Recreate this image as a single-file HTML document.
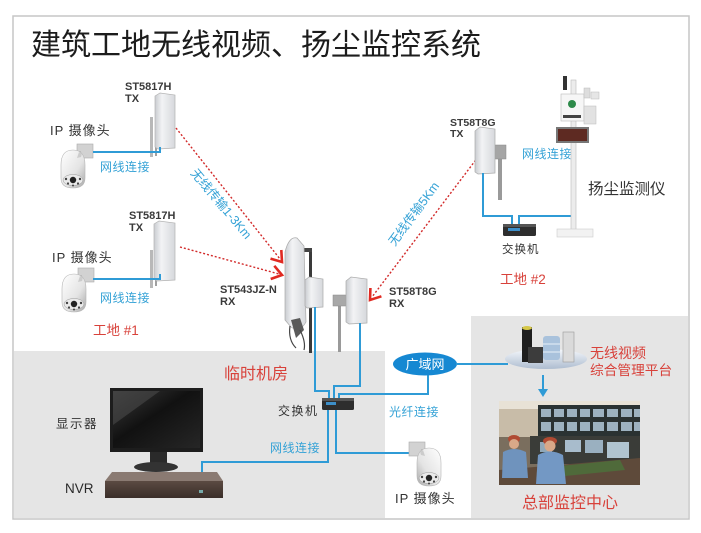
<!DOCTYPE html>
<html><head><meta charset="utf-8"><style>
html,body{margin:0;padding:0;background:#fff;}
svg{display:block;}
.cn{font-family:"Liberation Sans","Noto Sans CJK SC",sans-serif;}
.lat{font-family:"Liberation Sans",sans-serif;font-weight:bold;fill:#3a3a3a;font-size:11px;}
.blue{fill:#35a2d6;font-size:12px;letter-spacing:0.5px;}
.red{fill:#d8413a;}
.dark{fill:#333;}
.bl{fill:none;stroke:#2f9bd6;stroke-width:2;}
.rd{fill:none;stroke:#d22a2a;stroke-width:1.4;stroke-dasharray:2 2;}
.ah{fill:none;stroke:#e02a22;stroke-width:2.6;stroke-linejoin:miter;}
</style></head><body>
<svg width="701" height="533" viewBox="0 0 701 533" xmlns="http://www.w3.org/2000/svg">
<defs>
<linearGradient id="pan" x1="0" y1="0" x2="1" y2="0">
<stop offset="0" stop-color="#c9ccd0"/><stop offset="0.35" stop-color="#f2f3f5"/><stop offset="1" stop-color="#d6d8dc"/>
</linearGradient>
<linearGradient id="dome" x1="0" y1="0" x2="1" y2="1">
<stop offset="0" stop-color="#ffffff"/><stop offset="0.6" stop-color="#e4e4e4"/><stop offset="1" stop-color="#a8a8a8"/>
</linearGradient>
<linearGradient id="scr" x1="0" y1="0" x2="1" y2="1">
<stop offset="0" stop-color="#3a3a3a"/><stop offset="0.45" stop-color="#111"/><stop offset="1" stop-color="#262626"/>
</linearGradient>
<linearGradient id="plat" x1="0" y1="0" x2="0" y2="1">
<stop offset="0" stop-color="#f4f7fb"/><stop offset="1" stop-color="#aebdd0"/>
</linearGradient>
<linearGradient id="nvr" x1="0" y1="0" x2="0" y2="1">
<stop offset="0" stop-color="#5b4a42"/><stop offset="1" stop-color="#3a2e29"/>
</linearGradient>
<g id="cam">
<rect x="18" y="1" width="16" height="14" fill="#d2d2d2" stroke="#aaa" stroke-width="0.6"/>
<path d="M18,8 L22,8 L22,16 L18,17 Z" fill="#bdbdbd"/>
<path d="M2,22 Q2,7 14,7 Q26,7 26,22 L26,35 Q26,45 14,45 Q2,45 2,35 Z" fill="url(#dome)" stroke="#b5b5b5" stroke-width="0.6"/>
<path d="M20,9 Q24,10 22,14 L18,15 Z" fill="#ccc"/>
<ellipse cx="14" cy="37" rx="10" ry="5.5" fill="#eaeaea" stroke="#999" stroke-width="0.5"/>
<circle cx="14" cy="37" r="3.2" fill="#222"/>
<circle cx="7" cy="36" r="1.2" fill="#444"/><circle cx="21" cy="36" r="1.2" fill="#444"/>
<circle cx="9" cy="40.5" r="1.1" fill="#444"/><circle cx="19" cy="40.5" r="1.1" fill="#444"/>
<circle cx="14" cy="42.5" r="1" fill="#444"/>
</g>
</defs>

<!-- frame -->
<rect x="13" y="16" width="676" height="503" fill="#fff" stroke="#c6c6c6" stroke-width="1.5"/>
<!-- gray panels -->
<rect x="14" y="351" width="371" height="167" fill="#e5e5e5"/>
<rect x="471" y="316" width="217" height="202" fill="#e5e5e5"/>

<!-- title -->
<text x="31" y="55" class="cn" font-size="30" fill="#1c1c1c">建筑工地无线视频、扬尘监控系统</text>

<!-- ===== site 1 ===== -->
<text x="50" y="135" class="cn dark" font-size="13" letter-spacing="1">IP 摄像头</text>
<use href="#cam" transform="translate(59,143)"/>
<text x="125" y="90" class="lat">ST5817H</text>
<text x="125" y="102" class="lat">TX</text>
<rect x="150" y="117" width="3" height="40" fill="#b8b8b8"/>
<rect x="155" y="120" width="2" height="36" fill="#a0a0a0"/>
<polygon points="155,96 160,93 175,95 175,148 158,149 155,147" fill="url(#pan)" stroke="#b3b3b3" stroke-width="0.7"/>
<polyline class="bl" points="93,152 160,152 160,147"/>
<text x="100" y="171" class="cn blue">网线连接</text>

<text x="52" y="262" class="cn dark" font-size="13" letter-spacing="1">IP 摄像头</text>
<use href="#cam" transform="translate(60,267)"/>
<text x="129" y="219" class="lat">ST5817H</text>
<text x="129" y="231" class="lat">TX</text>
<rect x="150" y="250" width="3" height="38" fill="#b8b8b8"/>
<rect x="155" y="252" width="2" height="34" fill="#a0a0a0"/>
<polygon points="154,224 159,221 175,223 175,280 157,281 154,279" fill="url(#pan)" stroke="#b3b3b3" stroke-width="0.7"/>
<polyline class="bl" points="93,279 160,279 160,274"/>
<text x="100" y="302" class="cn blue">网线连接</text>
<text x="93" y="335" class="cn red" font-size="13.5">工地 #1</text>

<!-- red dashed wireless links -->
<line class="rd" x1="176" y1="128" x2="280" y2="259"/>
<polyline class="ah" points="281.3,250 282,262 270.5,258.6"/>
<line class="rd" x1="180" y1="247" x2="279" y2="274"/>
<polyline class="ah" points="274.3,265.8 282,275 270.7,279"/>
<line class="rd" x1="478" y1="157" x2="372" y2="297"/>
<polyline class="ah" points="381.4,296.3 370,300 370.4,288"/>
<text class="cn" font-size="12.5" fill="#35a2d6" text-anchor="middle" transform="translate(221,204) rotate(50)" dy="4">无线传输1-3Km</text>
<text class="cn" font-size="12.5" fill="#35a2d6" text-anchor="middle" transform="translate(414,214) rotate(-53.5)" dy="4">无线传输5Km</text>

<!-- ===== center antennas ===== -->
<text x="220" y="293" class="lat">ST543JZ-N</text>
<text x="220" y="305" class="lat">RX</text>
<rect x="309" y="250" width="3" height="103" fill="#3a3a3a"/>
<rect x="302" y="248" width="10" height="4" fill="#444"/>
<path d="M285,252 Q289,236 297,238 L304,246 L306,322 Q300,333 291,327 L285,320 Z" fill="url(#pan)" stroke="#aaa" stroke-width="0.7"/>
<path d="M291,320 L300,318 L304,330 L296,338 Z" fill="#5a5a5a"/>
<path d="M290,326 Q288,340 296,348" fill="none" stroke="#444" stroke-width="1.2"/>
<path d="M300,330 Q306,342 304,350" fill="none" stroke="#444" stroke-width="1.2"/>
<polygon points="305,280 309,277 323,279 323,307 307,308 305,306" fill="url(#pan)" stroke="#aaa" stroke-width="0.7"/>

<rect x="338" y="300" width="3" height="52" fill="#9a9a9a"/>
<rect x="333" y="295" width="13" height="11" fill="#a8a8a8" stroke="#888" stroke-width="0.5"/>
<polygon points="346,281 351,277 367,279 367,323 349,324 346,322" fill="url(#pan)" stroke="#aaa" stroke-width="0.7"/>
<text x="389" y="295" class="lat">ST58T8G</text>
<text x="389" y="307" class="lat">RX</text>

<!-- center blue lines -->
<polyline class="bl" points="315,307 315,391 329,391 329,399"/>
<polyline class="bl" points="360,323 360,386 334,386 334,399"/>
<polyline class="bl" points="428,375 428,394 339,394 339,399"/>
<polyline class="bl" points="328,410 328,462 202,462 202,492"/>
<polyline class="bl" points="336,410 336,453 414,453"/>
<!-- switch -->
<rect x="322" y="398" width="32" height="12" rx="1.5" fill="#2e2e2e"/>
<rect x="322" y="398" width="32" height="3" fill="#555"/>
<rect x="326" y="402" width="10" height="3" fill="#3d8fc9"/>
<text x="278" y="415" class="cn dark" font-size="12" letter-spacing="1.5">交换机</text>

<text x="224" y="379" class="cn red" font-size="16">临时机房</text>
<text x="270" y="452" class="cn blue">网线连接</text>
<text x="389" y="416" class="cn blue">光纤连接</text>

<!-- monitor -->
<text x="56" y="428" class="cn dark" font-size="12.5" letter-spacing="1.5">显示器</text>
<rect x="110" y="388" width="93" height="64" fill="#1d1d1d"/>
<rect x="113" y="391" width="87" height="57" fill="url(#scr)"/>
<polygon points="113,391 160,391 113,425" fill="#4a4a4a" opacity="0.6"/>
<rect x="150" y="452" width="17" height="13" fill="#2a2a2a"/>
<ellipse cx="156" cy="467" rx="22" ry="5" fill="#333"/>
<!-- NVR -->
<text x="65" y="493" style="font-family:'Liberation Sans',sans-serif;font-size:13.5px;fill:#2a2a2a;">NVR</text>
<polygon points="112,472 217,472 223,481 105,481" fill="#8a7a72"/>
<rect x="105" y="481" width="118" height="17" fill="url(#nvr)"/>
<line x1="105" y1="489" x2="223" y2="489" stroke="#4a3c36" stroke-width="0.8"/>
<rect x="199" y="490" width="4" height="3" fill="#7aa"/>

<!-- WAN ellipse -->
<ellipse cx="425" cy="364" rx="32" ry="11.5" fill="#1688d2"/>
<text x="425" y="369" class="cn" font-size="13" fill="#fff" text-anchor="middle">广域网</text>
<line class="bl" x1="456" y1="364" x2="508" y2="364"/>

<!-- camera 3 -->
<use href="#cam" transform="translate(443,441) scale(-1,1)"/>
<text x="395" y="503" class="cn dark" font-size="13" letter-spacing="1">IP 摄像头</text>

<!-- ===== site 2 ===== -->
<text x="450" y="126" class="lat" style="font-size:10.5px">ST58T8G</text>
<text x="450" y="137" class="lat" style="font-size:10.5px">TX</text>
<rect x="498" y="148" width="4" height="52" fill="#9a9a9a"/>
<rect x="495" y="145" width="11" height="14" fill="#a5a5a5" stroke="#888" stroke-width="0.5"/>
<polygon points="475,131 480,127 495,129 495,173 478,174 475,172" fill="url(#pan)" stroke="#aaa" stroke-width="0.7"/>
<polyline class="bl" points="483,173 483,216 512,216 512,225"/>
<polyline class="bl" points="519,225 519,216 573,216"/>
<rect x="503" y="224" width="33" height="12" rx="1.5" fill="#2e2e2e"/>
<rect x="503" y="224" width="33" height="3" fill="#555"/>
<rect x="508" y="228" width="12" height="3" fill="#3d8fc9"/>
<text x="502" y="253" class="cn dark" font-size="11.5" letter-spacing="1">交换机</text>
<text x="522" y="158" class="cn blue">网线连接</text>
<text x="500" y="284" class="cn red" font-size="13.5">工地 #2</text>

<!-- dust monitor -->
<rect x="571" y="80" width="5" height="152" fill="#ececec" stroke="#bbb" stroke-width="0.6"/>
<rect x="563" y="76" width="4" height="14" fill="#333"/>
<rect x="561" y="94" width="23" height="27" fill="#f6f6f6" stroke="#bbb" stroke-width="0.6"/>
<circle cx="572" cy="104" r="4" fill="#2d8a4a"/>
<rect x="563" y="115" width="18" height="3" fill="#444"/>
<rect x="584" y="88" width="6" height="10" fill="#ddd" stroke="#bbb" stroke-width="0.5"/>
<rect x="591" y="92" width="8" height="7" fill="#e6e6e6" stroke="#bbb" stroke-width="0.5"/>
<rect x="584" y="106" width="12" height="18" fill="#e2e2e2" stroke="#bbb" stroke-width="0.5"/>
<rect x="556" y="127" width="33" height="16" fill="#777"/>
<rect x="558" y="129" width="29" height="12" fill="#5e2a22"/>
<rect x="557" y="229" width="36" height="8" fill="#f2f2f2" stroke="#ccc" stroke-width="0.6"/>
<text x="588" y="194" class="cn" font-size="15.5" fill="#333">扬尘监测仪</text>

<!-- ===== HQ ===== -->
<ellipse cx="546" cy="359" rx="41" ry="10" fill="url(#plat)"/>
<rect x="522" y="327" width="10" height="35" fill="#1e1e1e"/>
<ellipse cx="527" cy="328" rx="5" ry="2" fill="#d6c84a"/>
<rect x="528" y="347" width="15" height="16" fill="#3c3c3c"/>
<rect x="543" y="336" width="17" height="24" rx="3" fill="#a9c2dc"/>
<line x1="543" y1="344" x2="560" y2="344" stroke="#e8f0f8" stroke-width="1"/>
<line x1="543" y1="352" x2="560" y2="352" stroke="#e8f0f8" stroke-width="1"/>
<rect x="563" y="332" width="11" height="30" fill="#dadada" stroke="#999" stroke-width="0.6"/>
<text x="590" y="358" class="cn red" font-size="14">无线视频</text>
<text x="590" y="375" class="cn red" font-size="13.7">综合管理平台</text>
<line x1="543" y1="375" x2="543" y2="390" stroke="#2f9bd6" stroke-width="2"/>
<polygon points="538,389 548,389 543,397" fill="#2f9bd6"/>

<!-- photo -->
<rect x="499" y="401" width="141" height="84" fill="#c8bca8"/>
<rect x="499" y="401" width="141" height="8" fill="#e8e2d6"/>
<rect x="538" y="405" width="102" height="32" fill="#2a3232"/>
<g fill="#9db2c0">
<rect x="541" y="409" width="10" height="8"/><rect x="554" y="409" width="10" height="8"/><rect x="567" y="409" width="10" height="8"/><rect x="580" y="409" width="10" height="8"/><rect x="593" y="409" width="11" height="8"/><rect x="607" y="409" width="11" height="8"/><rect x="621" y="409" width="11" height="8"/><rect x="634" y="409" width="6" height="8"/>
<rect x="541" y="422" width="10" height="9"/><rect x="554" y="422" width="10" height="9"/><rect x="567" y="422" width="10" height="9"/><rect x="580" y="422" width="10" height="9"/><rect x="593" y="422" width="11" height="9"/><rect x="607" y="422" width="11" height="9"/><rect x="621" y="422" width="11" height="9"/><rect x="634" y="422" width="6" height="9"/>
</g>
<rect x="499" y="437" width="141" height="48" fill="#7a6e5e"/>
<rect x="530" y="436" width="110" height="28" fill="#3a3c38"/>
<rect x="565" y="440" width="16" height="12" fill="#a8bccc"/>
<rect x="585" y="440" width="18" height="13" fill="#9ab0c0"/>
<rect x="607" y="442" width="22" height="16" fill="#b0c4d0"/>
<rect x="540" y="442" width="12" height="10" fill="#90a8b8"/>
<polygon points="499,470 640,458 640,485 499,485" fill="#5e4a3a"/>
<polygon points="560,466 620,460 625,470 565,476" fill="#4f6a3a"/>
<!-- operators -->
<ellipse cx="514" cy="439" rx="6" ry="4" fill="#b04a32"/>
<circle cx="514" cy="444" r="5" fill="#d8a888"/>
<path d="M503,452 Q514,446 526,452 L528,478 L502,478 Z" fill="#6f93bd"/>
<ellipse cx="550" cy="441" rx="7" ry="4" fill="#b04a32"/>
<circle cx="550" cy="446" r="5.5" fill="#d8a888"/>
<path d="M538,455 Q550,448 563,455 L566,484 L536,484 Z" fill="#7398c4"/>

<text x="522" y="508" class="cn red" font-size="16">总部监控中心</text>
</svg>
</body></html>
